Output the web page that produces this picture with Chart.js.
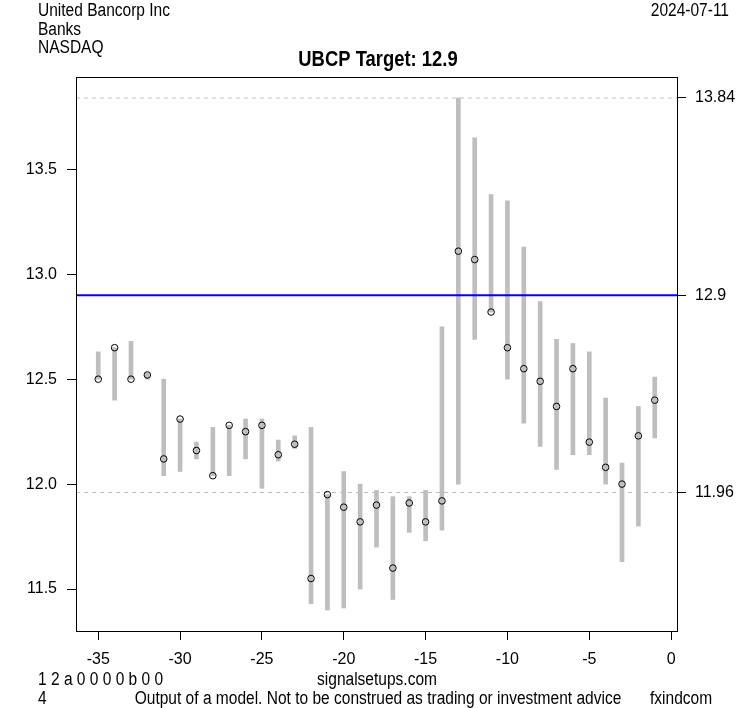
<!DOCTYPE html>
<html>
<head>
<meta charset="utf-8">
<script src="https://cdn.jsdelivr.net/npm/chart.js@4"></script>
<style>
  body { margin: 0; background: #fff; }
  canvas { display: block; }
</style>
</head>
<body>
<canvas id="chart" width="753" height="708"></canvas>
<script>
// days before the signal date
let days = [-35, -34, -33, -32, -31, -30, -29, -28, -27, -26, -25, -24, -23, -22, -21, -20, -19, -18,
  -17, -16, -15, -14, -13, -12, -11, -10, -9, -8, -7, -6, -5, -4, -3, -2, -1]
let highs = [12.63, 12.65, 12.68, 12.53, 12.50, 12.31, 12.20, 12.27, 12.28, 12.31, 12.31, 12.21, 12.23, 12.27, 11.95, 12.06, 12.00, 11.97,
  11.94, 11.94, 11.97, 12.75, 13.84, 13.65, 13.38, 13.35, 13.13, 12.87, 12.69, 12.67, 12.63, 12.41, 12.10, 12.37, 12.51]
let lows = [12.50, 12.40, 12.50, 12.50, 12.04, 12.06, 12.12, 12.04, 12.04, 12.12, 11.98, 12.11, 12.17, 11.43, 11.40, 11.41, 11.50, 11.70,
  11.45, 11.77, 11.73, 11.78, 12.00, 12.69, 12.82, 12.50, 12.29, 12.18, 12.07, 12.14, 12.14, 12.00, 11.63, 11.80, 12.22]
let closes = [12.50, 12.65, 12.50, 12.52, 12.12, 12.31, 12.16, 12.04, 12.28, 12.25, 12.28, 12.14, 12.19, 11.55, 11.95, 11.89, 11.82, 11.90,
  11.60, 11.91, 11.82, 11.92, 13.11, 13.07, 12.82, 12.65, 12.55, 12.49, 12.37, 12.55, 12.20, 12.08, 12.00, 12.23, 12.40]

let target = 12.9
let upperBand = 13.84
let lowerBand = 11.96

let xTicks = [-35, -30, -25, -20, -15, -10, -5, 0]
let yTicksLeft = [11.5, 12.0, 12.5, 13.0, 13.5]
let yTicksRight = [lowerBand, target, upperBand]

const xMin = -36.36, xMax = 0.36
const yMin = 11.30, yMax = 13.94
const font = '"Liberation Sans", Arial, sans-serif'

function hline(value, color, width, dash, order) {
  return {
    type: 'line',
    data: [{ x: xMin, y: value }, { x: xMax, y: value }],
    borderColor: color,
    borderWidth: width,
    borderDash: dash,
    pointRadius: 0,
    order: order
  }
}

// text a bit taller than wide, like the original
function tallText(ctx, txt, x, y, align) {
  ctx.save()
  ctx.translate(x, y)
  ctx.scale(0.97, 1.15)
  ctx.textAlign = align
  ctx.fillText(txt, 0, 0)
  ctx.restore()
}

// header/footer texts and the box top
const textPlugin = {
  id: 'texts',
  afterDraw(chart) {
    const ctx = chart.ctx
    const a = chart.chartArea
    ctx.save()
    ctx.strokeStyle = '#000'
    ctx.lineWidth = 1
    ctx.strokeRect(a.left + 0.5, a.top + 0.5, a.right - a.left, a.bottom - a.top)
    ctx.fillStyle = '#000'
    ctx.textBaseline = 'middle'
    ctx.font = '16px ' + font
    tallText(ctx, 'United Bancorp Inc', 38, 11, 'left')
    tallText(ctx, 'Banks', 38, 30, 'left')
    tallText(ctx, 'NASDAQ', 38, 48, 'left')
    tallText(ctx, '1 2 a 0 0 0 0 b 0 0', 38, 680, 'left')
    tallText(ctx, '4', 38, 699, 'left')
    tallText(ctx, 'fxindcom', 650, 699, 'left')
    tallText(ctx, '2024-07-11', 729, 11, 'right')
    tallText(ctx, 'signalsetups.com', 377, 680, 'center')
    tallText(ctx, 'Output of a model. Not to be construed as trading or investment advice', 378, 699, 'center')
    ctx.font = 'bold 19px ' + font
    tallText(ctx, 'UBCP Target: ' + target, 378, 60, 'center')
    ctx.restore()
  }
}

new Chart(document.getElementById('chart'), {
  type: 'bar',
  data: {
    datasets: [
      hline(upperBand, '#bebebe', 1, [4, 4], 5),
      hline(lowerBand, '#bebebe', 1, [4, 4], 5),
      {
        type: 'bar',
        data: days.map((d, i) => ({ x: d, y: [lows[i], highs[i]] })),
        backgroundColor: '#bebebe',
        borderWidth: 0,
        barThickness: 4,
        order: 3
      },
      hline(target, '#0000ff', 2, [], 2),
      {
        type: 'line',
        showLine: false,
        data: days.map((d, i) => ({ x: d, y: closes[i] })),
        pointRadius: 3.3,
        pointBorderColor: '#000',
        pointBackgroundColor: 'rgba(0,0,0,0)',
        pointBorderWidth: 1,
        order: 1
      }
    ]
  },
  options: {
    responsive: false,
    animation: false,
    layout: { padding: { top: 77, left: 0, right: 0, bottom: 0 } },
    plugins: { legend: { display: false }, tooltip: { enabled: false } },
    scales: {
      x: {
        type: 'linear',
        position: 'bottom',
        min: xMin,
        max: xMax,
        offset: false,
        afterBuildTicks: (s) => { s.ticks = xTicks.map(v => ({ value: v })) },
        afterFit: (s) => { s.height = 77 },
        grid: { drawOnChartArea: false, drawTicks: true, tickLength: 9, color: '#000', offset: false },
        border: { display: true, color: '#000' },
        ticks: { color: '#000', font: { family: font, size: 16 }, padding: 10, maxRotation: 0, autoSkip: false }
      },
      y: {
        type: 'linear',
        position: 'left',
        min: yMin,
        max: yMax,
        afterBuildTicks: (s) => { s.ticks = yTicksLeft.map(v => ({ value: v })) },
        afterFit: (s) => { s.width = 76 },
        grid: { drawOnChartArea: false, drawTicks: true, tickLength: 9, color: '#000' },
        border: { display: true, color: '#000' },
        ticks: { color: '#000', font: { family: font, size: 16 }, padding: 10, callback: (v) => v.toFixed(1) }
      },
      y2: {
        type: 'linear',
        position: 'right',
        min: yMin,
        max: yMax,
        afterBuildTicks: (s) => { s.ticks = yTicksRight.map(v => ({ value: v })) },
        afterFit: (s) => { s.width = 76 },
        grid: { drawOnChartArea: false, drawTicks: true, tickLength: 9, color: '#000' },
        border: { display: true, color: '#000' },
        ticks: { color: '#000', font: { family: font, size: 16 }, padding: 9, callback: (v) => String(v) }
      }
    }
  },
  plugins: [textPlugin]
});
</script>
</body>
</html>
